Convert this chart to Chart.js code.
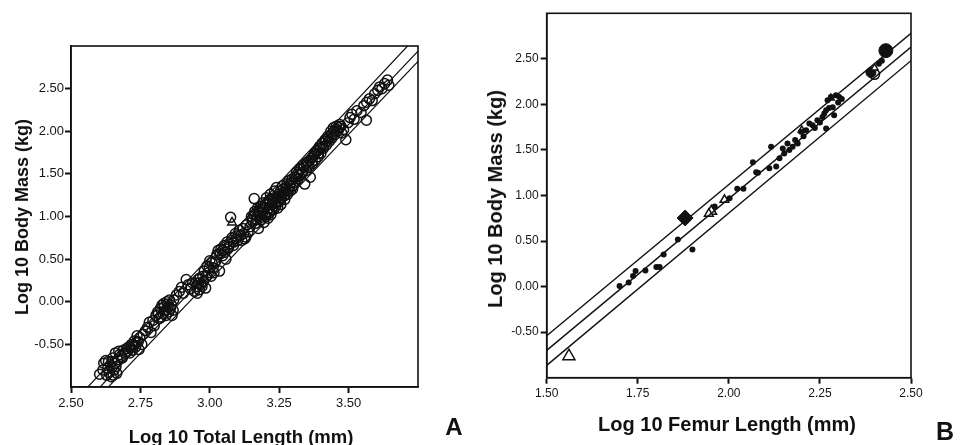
<!DOCTYPE html>
<html><head><meta charset="utf-8">
<script src="https://cdn.jsdelivr.net/npm/chart.js@4.4.0/dist/chart.umd.min.js"></script>
<style>
html,body{margin:0;padding:0;background:#fff;}
body{width:969px;height:445px;overflow:hidden;position:relative;font-family:"Liberation Sans",Arial,sans-serif;}
canvas{position:absolute;top:0;}
.t{position:absolute;font-weight:bold;white-space:nowrap;color:#111;transform:translate(-50%,-50%);line-height:1;}
.r{transform:translate(-50%,-50%) rotate(-90deg);}
</style></head><body>
<canvas id="ca" width="440" height="445" style="left:0px"></canvas>
<canvas id="cb" width="529" height="445" style="left:440px"></canvas>
<div class="t r" style="left:22px;top:217px;font-size:18px">Log 10 Body Mass (kg)</div>
<div class="t" style="left:241px;top:437px;font-size:18.5px">Log 10 Total Length (mm)</div>
<div class="t r" style="left:495px;top:199px;font-size:20px">Log 10 Body Mass (kg)</div>
<div class="t" style="left:727px;top:424px;font-size:20px">Log 10 Femur Length (mm)</div>
<div class="t" style="left:454px;top:427px;font-size:24px">A</div>
<div class="t" style="left:945px;top:431px;font-size:25px">B</div>
<script>
// ---------- Panel A : total length vs body mass ----------
const aTicksX = [2.50, 2.75, 3.00, 3.25, 3.50];
const aTicksY = [-0.50, 0.00, 0.50, 1.00, 1.50, 2.00, 2.50];
const aLength = [2.603,2.618,2.625,2.632,2.638,2.642,2.648,2.652,2.655,2.660,2.662,2.668,2.672,2.680,2.688,2.695,2.700,2.708,2.712,2.718,
2.722,2.728,2.733,2.738,2.742,2.748,2.755,2.760,2.768,2.776,2.782,2.788,2.795,2.800,2.806,2.812,2.818,2.822,2.828,2.832,
2.836,2.840,2.845,2.848,2.852,2.858,2.864,2.870,2.880,2.890,2.898,2.905,2.915,2.922,2.930,2.938,2.945,2.952,2.958,2.962,
2.968,2.975,2.980,2.985,2.990,2.995,3.000,3.005,3.012,3.018,3.025,3.030,3.035,3.040,3.046,3.052,3.058,3.062,3.068,3.075,
3.080,3.086,3.092,3.100,3.106,3.112,3.120,3.126,3.132,3.138,3.145,3.150,3.155,3.160,3.162,3.165,3.170,3.172,3.175,3.178,
3.182,3.185,3.188,3.192,3.195,3.198,3.200,3.204,3.206,3.210,3.212,3.215,3.218,3.220,3.224,3.226,3.230,3.233,3.236,3.240,
3.242,3.245,3.248,3.252,3.255,3.258,3.262,3.266,3.270,3.275,3.280,3.285,3.290,3.296,3.300,3.306,3.312,3.318,3.324,3.330,
3.336,3.342,3.348,3.352,3.358,3.362,3.366,3.370,3.375,3.380,3.385,3.390,3.395,3.400,3.405,3.410,3.415,3.420,3.425,3.430,
3.436,3.440,3.445,3.450,3.456,3.462,3.468,3.475,3.482,3.490,3.498,3.505,3.512,3.520,3.530,3.545,3.555,3.564,3.565,3.575,
3.585,3.594,3.605,3.612,3.620,3.630,3.640,3.645,
2.615,2.628,2.635,2.645,2.650,2.658,2.665,2.675,2.685,2.705,2.715,2.725,2.735,2.745,
2.815,2.825,2.834,2.842,2.850,2.855,2.862,2.868,
2.948,2.955,2.960,2.965,2.972,2.978,2.988,2.998,3.008,3.015,3.022,
3.038,3.048,3.055,3.065,3.072,3.085,3.095,3.104,3.115,3.122,3.130,
3.152,3.158,3.168,3.174,3.180,3.186,3.190,3.196,3.202,3.208,3.214,3.216,3.222,3.228,3.232,3.238,3.244,3.250,3.256,3.260,
3.264,3.268,3.272,3.278,3.282,3.288,3.292,3.298,
3.304,3.310,3.316,3.322,3.328,3.334,3.340,3.346,3.354,3.360,3.368,3.372,3.378,3.388,3.392,3.398,3.408,3.418,3.428,3.438,
3.448,3.458,3.466,3.472];
const aMass = [-0.85,-0.72,-0.69,-0.78,-0.83,-0.74,-0.70,-0.86,-0.80,-0.60,-0.76,-0.68,-0.58,-0.64,-0.57,-0.60,-0.55,-0.53,-0.60,-0.50,
-0.57,-0.46,-0.53,-0.40,-0.47,-0.42,-0.50,-0.38,-0.34,-0.30,-0.24,-0.36,-0.22,-0.28,-0.16,-0.12,-0.20,-0.08,-0.04,-0.14,
-0.06,-0.10,0.00,-0.03,-0.12,-0.08,-0.16,0.02,0.08,0.12,0.17,0.10,0.26,0.20,0.15,0.22,0.12,0.18,0.26,0.14,
0.20,0.30,0.36,0.16,0.42,0.34,0.48,0.30,0.40,0.46,0.55,0.60,0.36,0.62,0.54,0.66,0.50,0.70,0.64,0.99,
0.75,0.70,0.80,0.72,0.84,0.78,0.86,0.74,0.90,0.82,0.88,1.00,0.94,1.21,1.06,0.92,1.00,1.10,0.86,1.04,
1.12,0.96,1.08,1.16,0.93,1.02,1.14,1.22,1.06,0.98,1.18,1.10,1.26,1.02,1.14,1.20,1.08,1.30,1.16,1.34,
1.22,1.10,1.26,1.18,1.30,1.22,1.36,1.28,1.20,1.34,1.26,1.42,1.30,1.44,1.36,1.46,1.52,1.44,1.56,1.50,
1.60,1.38,1.54,1.64,1.58,1.46,1.68,1.62,1.72,1.66,1.76,1.70,1.82,1.74,1.86,1.80,1.90,1.84,1.94,1.88,
2.00,1.92,2.04,1.96,2.06,2.00,2.08,1.98,2.02,1.90,2.10,2.16,2.20,2.14,2.24,2.22,2.30,2.13,2.34,2.38,
2.36,2.44,2.48,2.52,2.50,2.56,2.60,2.54,
-0.80,-0.86,-0.70,-0.88,-0.66,-0.72,-0.84,-0.62,-0.66,-0.58,-0.54,-0.52,-0.48,-0.56,
-0.14,-0.18,-0.02,-0.16,-0.06,0.02,-0.04,-0.10,
0.22,0.10,0.22,0.28,0.18,0.24,0.30,0.40,0.46,0.34,0.48,
0.56,0.60,0.58,0.62,0.68,0.66,0.74,0.78,0.72,0.80,0.76,
0.96,1.02,0.96,1.06,0.98,1.12,1.04,1.10,1.00,1.14,1.04,1.20,1.08,1.16,1.22,1.12,1.18,1.24,1.14,1.26,
1.32,1.24,1.30,1.38,1.32,1.36,1.40,1.32,
1.40,1.46,1.50,1.48,1.56,1.52,1.58,1.62,1.60,1.66,1.64,1.70,1.74,1.78,1.74,1.80,1.82,1.88,1.92,1.96,
2.00,2.02,2.04,2.06];
const aTriX = [3.080];
const aTriY = [0.93];
const aFitX = [2.50, 3.75];
const aUpperY = [-1.21, 3.13];
const aMidY = [-1.36, 2.94];
const aLowerY = [-1.46, 2.82];

// ---------- Panel B : femur length vs body mass ----------
const bTicksX = [1.50, 1.75, 2.00, 2.25, 2.50];
const bTicksY = [-0.50, 0.00, 0.50, 1.00, 1.50, 2.00, 2.50];
const bDotX = [1.700,1.725,1.737,1.744,1.771,1.801,1.810,1.821,1.860,1.900,1.961,2.002,2.023,2.040,2.066,2.075,2.080,2.111,2.116,2.130,
2.139,2.148,2.152,2.161,2.166,2.175,2.182,2.189,2.198,2.205,2.212,2.221,2.230,2.236,2.243,2.250,2.257,2.262,2.267,2.267,
2.271,2.275,2.280,2.285,2.289,2.294,2.300,2.303,2.310,2.412,2.420];
const bDotY = [0.007,0.044,0.116,0.170,0.178,0.214,0.214,0.352,0.516,0.407,0.880,0.970,1.073,1.073,1.364,1.255,1.250,1.300,1.535,1.317,
1.408,1.517,1.460,1.572,1.500,1.535,1.610,1.572,1.700,1.650,1.717,1.790,1.770,1.740,1.826,1.800,1.862,1.900,1.736,1.935,
2.045,1.960,2.080,1.970,1.880,2.100,2.020,2.080,2.060,2.445,2.480];
const bOpenTriX = [1.561, 1.952, 1.945, 1.988, 2.200, 2.280, 2.400];
const bOpenTriY = [-0.764, 0.826, 0.800, 0.953, 1.720, 2.070, 2.400];
const bOpenTriR = [7, 6, 5, 5, 4, 4, 4];
const bDiamondX = [1.880];
const bDiamondY = [0.753];
const bBigDotX = [2.431, 2.390];
const bBigDotY = [2.590, 2.350];
const bBigDotR = [7, 5];
const bOpenCircX = [2.400];
const bOpenCircY = [2.330];
const bFitX = [1.50, 2.50];
const bUpperY = [-0.54, 2.78];
const bMidY = [-0.70, 2.63];
const bLowerY = [-0.865, 2.48];

const zip = (xs, ys) => xs.map((x, i) => ({x: x, y: ys[i]}));
const INK = '#111';

const boxPlugin = {
  id: 'box',
  afterDraw(chart) {
    const a = chart.chartArea, c = chart.ctx;
    c.save();
    c.strokeStyle = INK; c.lineWidth = 1.6;
    c.strokeRect(a.left, a.top, a.right - a.left, a.bottom - a.top);
    c.restore();
  }
};

function axis(min, max, tickVals, fontSize, isY, size, pad) {
  return {
    type: 'linear', min: min, max: max, position: isY ? 'left' : 'bottom',
    afterBuildTicks: s => { s.ticks = tickVals.map(v => ({value: v})); },
    afterFit: s => { if (isY) s.width = size; else s.height = size; },
    grid: {drawOnChartArea: false, drawTicks: true, tickLength: 6, tickWidth: 2, tickColor: INK},
    border: {display: true, color: INK, width: 1.6},
    ticks: {font: {family: 'Liberation Sans', size: fontSize}, color: '#151515', padding: pad,
      maxRotation: 0, autoSkip: false, callback: v => Number(v).toFixed(2)}
  };
}

function lineSet(xs, ys, w) {
  return {type: 'scatter', data: zip(xs, ys), showLine: true, borderColor: INK, borderWidth: w,
    pointRadius: 0, fill: false, order: 0};
}

Chart.defaults.animation = false;

new Chart(document.getElementById('ca'), {
  type: 'scatter',
  data: {datasets: [
    lineSet(aFitX, aUpperY, 1.2), lineSet(aFitX, aMidY, 1.2), lineSet(aFitX, aLowerY, 1.2),
    {data: zip(aLength, aMass), pointStyle: 'circle', pointRadius: 5, borderWidth: 1.5,
      borderColor: INK, backgroundColor: 'rgba(255,255,255,0)', order: 1},
    {data: zip(aTriX, aTriY), pointStyle: 'triangle', pointRadius: 5, borderWidth: 1.4,
      borderColor: INK, backgroundColor: 'rgba(255,255,255,0)', order: 1}
  ]},
  options: {
    responsive: false, devicePixelRatio: 1, animation: false,
    layout: {padding: {left: 21, right: 22, top: 46, bottom: 28}},
    plugins: {legend: {display: false}, tooltip: {enabled: false}},
    scales: {
      x: axis(2.5, 3.75, aTicksX, 13, false, 30, 3),
      y: axis(-1, 3, aTicksY, 13, true, 50, 1)
    }
  },
  plugins: [boxPlugin]
});

new Chart(document.getElementById('cb'), {
  type: 'scatter',
  data: {datasets: [
    lineSet(bFitX, bUpperY, 1.4), lineSet(bFitX, bMidY, 1.4), lineSet(bFitX, bLowerY, 1.4),
    {data: zip(bDotX, bDotY), pointStyle: 'circle', pointRadius: 3, borderWidth: 0,
      backgroundColor: INK, borderColor: INK, order: 1},
    {data: zip(bOpenTriX, bOpenTriY), pointStyle: 'triangle', pointRadius: bOpenTriR, borderWidth: 1.5,
      borderColor: INK, backgroundColor: '#fff', order: 1},
    {data: zip(bDiamondX, bDiamondY), pointStyle: 'rectRot', pointRadius: 8, borderWidth: 1,
      borderColor: INK, backgroundColor: INK, order: 1},
    {data: zip(bBigDotX, bBigDotY), pointStyle: 'circle', pointRadius: bBigDotR, borderWidth: 1,
      borderColor: INK, backgroundColor: INK, order: 1},
    {data: zip(bOpenCircX, bOpenCircY), pointStyle: 'circle', pointRadius: 5, borderWidth: 1.5,
      borderColor: INK, backgroundColor: 'rgba(255,255,255,0)', order: 1}
  ]},
  options: {
    responsive: false, devicePixelRatio: 1, animation: false,
    layout: {padding: {left: 56.7, right: 58, top: 13.3, bottom: 37.3}},
    plugins: {legend: {display: false}, tooltip: {enabled: false}},
    scales: {
      x: axis(1.5, 2.5, bTicksX, 12, false, 30, 3),
      y: axis(-1, 3, bTicksY, 12, true, 50, 2)
    }
  },
  plugins: [boxPlugin]
});
</script>
</body></html>
